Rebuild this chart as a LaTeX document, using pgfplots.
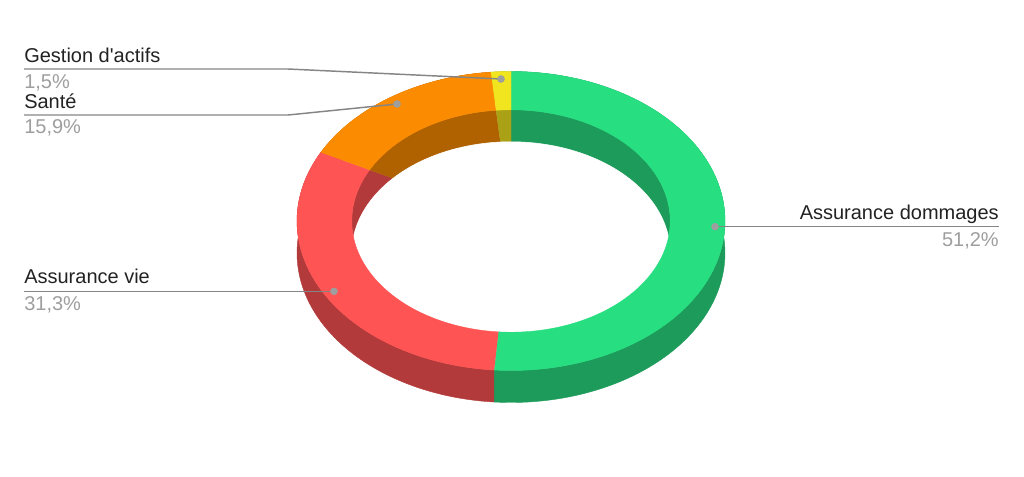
\documentclass[border=0pt]{standalone}
\usepackage{pgfplots}
\pgfplotsset{compat=1.18}
\usepackage{pgfplotstable}
\usepackage{fontspec}
\setmainfont{Liberation Sans}

\definecolor{cGreen}{HTML}{27DE81}
\definecolor{cGreenD}{HTML}{1D9B5A}
\definecolor{cRed}{HTML}{FF5454}
\definecolor{cRedD}{HTML}{B33A3A}
\definecolor{cOrange}{HTML}{FB8B00}
\definecolor{cOrangeD}{HTML}{B06200}
\definecolor{cYellow}{HTML}{F0E51F}
\definecolor{cYellowD}{HTML}{AAA117}
\definecolor{nameCol}{HTML}{222222}
\definecolor{pctCol}{HTML}{9E9E9E}
\definecolor{leadCol}{HTML}{858585}

% shares, clockwise from 12 o'clock
\pgfplotstableread{
share
51.2
31.3
15.9
1.5
}\shares

% ring geometry in pixel units (y downwards)
\def\cx{511}
\def\cy{221}
\def\Rx{214}
\def\Ry{149.5}
\def\k{0.744}
\def\D{32}

% one piece: outer/inner arc from angle #1 to #2, radius ratio #3 -> #4, drop #5
\newcommand\piece[6]{%
  \addplot[fill=#6, draw=#6, line width=0.3pt, domain=0:3, samples=301, variable=\t]
  ({\cx + (#3+(#4-#3)*min(max(\t-1,0),1))*\Rx*cos(#1+(#2-#1)*min(\t,1)+(#1-#2)*max(\t-2,0))},
   {\cy - (#3+(#4-#3)*min(max(\t-1,0),1))*\Ry*sin(#1+(#2-#1)*min(\t,1)+(#1-#2)*max(\t-2,0)) + #5*min(max(\t-1,0),1)});
}

\begin{document}
\begin{tikzpicture}
\pgfplotstablegetelem{0}{share}\of\shares\let\sA\pgfplotsretval
\pgfplotstablegetelem{1}{share}\of\shares\let\sB\pgfplotsretval
\pgfplotstablegetelem{2}{share}\of\shares\let\sC\pgfplotsretval
\pgfplotstablegetelem{3}{share}\of\shares\let\sD\pgfplotsretval
\pgfmathsetmacro\tot{\sA+\sB+\sC+\sD}
\pgfmathsetmacro\aA{90}
\pgfmathsetmacro\aB{\aA-360*(\sA/\tot)}
\pgfmathsetmacro\aC{\aB-360*(\sB/\tot)}
\pgfmathsetmacro\aD{\aC-360*(\sC/\tot)}
\pgfmathsetmacro\aE{\aD-360*(\sD/\tot)}
\begin{axis}[
    width=768pt, height=357pt, scale only axis,
    hide axis, clip=false,
    xmin=0, xmax=1024, ymin=0, ymax=476,
    y dir=reverse,
]
\path (axis cs:0,0) rectangle (axis cs:1024,476);
% outer side walls
\piece{\aA}{\aB}{1}{1}{\D}{cGreenD}
\piece{\aB}{\aC}{1}{1}{\D}{cRedD}
\piece{\aC}{\aD}{1}{1}{\D}{cOrangeD}
\piece{\aD}{\aE}{1}{1}{\D}{cYellowD}
% inner walls
\piece{\aA}{\aB}{\k}{0}{0}{cGreenD}
\piece{\aB}{\aC}{\k}{0}{0}{cRedD}
\piece{\aC}{\aD}{\k}{0}{0}{cOrangeD}
\piece{\aD}{\aE}{\k}{0}{0}{cYellowD}
% hole floor
\addplot[fill=white, draw=white, domain=0:360, samples=181]
  ({\cx+\k*\Rx*cos(x)}, {\cy+\D-\k*\Ry*sin(x)});
% top faces
\piece{\aA}{\aB}{1}{\k}{0}{cGreen}
\piece{\aB}{\aC}{1}{\k}{0}{cRed}
\piece{\aC}{\aD}{1}{\k}{0}{cOrange}
\piece{\aD}{\aE}{1}{\k}{0}{cYellow}

% leader lines
\addplot[leadCol, line width=1.1pt] coordinates {(24,69) (288,69) (501,79)};
\addplot[leadCol, line width=1.1pt] coordinates {(24,115) (288,115) (397,104)};
\addplot[leadCol, line width=1.1pt] coordinates {(24,291.3) (334,291.3)};
\addplot[leadCol, line width=1.1pt] coordinates {(715,226.7) (999,226.7)};
\addplot[only marks, mark=*, mark size=2.6pt, pctCol] coordinates {(501,79) (397,104) (334,291.3) (715,226.7)};

\begin{scope}[every node/.style={inner sep=0pt, font=\fontsize{15}{18}\selectfont}]
\node[anchor=base west, text=nameCol] at (axis cs:24,62.3) {Gestion d\textquotesingle actifs};
\node[anchor=base west, text=pctCol] at (axis cs:24,88.3) {1,5\%};
\node[anchor=base west, text=nameCol] at (axis cs:24,108.3) {Santé};
\node[anchor=base west, text=pctCol] at (axis cs:24,133.3) {15,9\%};
\node[anchor=base west, text=nameCol] at (axis cs:24,283.3) {Assurance vie};
\node[anchor=base west, text=pctCol] at (axis cs:24,310) {31,3\%};
\node[anchor=base east, text=nameCol] at (axis cs:999,219.3) {Assurance dommages};
\node[anchor=base east, text=pctCol] at (axis cs:999,246) {51,2\%};
\end{scope}
\end{axis}
\end{tikzpicture}
\end{document}
